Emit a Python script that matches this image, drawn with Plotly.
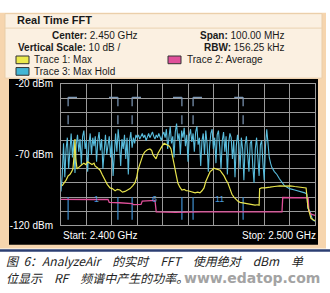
import plotly.graph_objects as go

W, H = 330, 293
def px(x): return x / W
def py(y): return 1 - y / H

# ---------------- data ----------------
start_ghz = 2.400
stop_ghz = 2.500
step_ghz = 0.0005

# Trace 3: Max Hold (cyan), sampled every 0.5 MHz from 2.400 GHz
max_hold_dbm = [
    -96, -84, -62, -86, -66, -58, -80, -64, -55, -72, -60, -83, -63, -56, -68, -59,
    -77, -57, -53, -66, -60, -82, -62, -55, -70, -58, -64, -57, -75, -60, -54, -67,
    -59, -80, -63, -56, -70, -61, -57, -72, -60, -85, -64, -55, -68, -52, -62, -78,
    -59, -66, -56, -73, -58, -84, -60, -54, -65, -58, -62, -56, -58, -56, -59, -57,
    -55, -58, -56, -60, -57, -55, -58, -56, -54, -57, -59, -56, -58, -55, -57, -60,
    -56, -54, -58, -52, -66, -55, -50, -62, -57, -72, -54, -48, -60, -55, -70, -53,
    -58, -51, -64, -56, -75, -57, -52, -61, -55, -68, -54, -50, -63, -58, -78, -60,
    -55, -70, -53, -62, -82, -64, -55, -52, -66, -58, -76, -56, -53, -65, -80, -60,
    -54, -68, -57, -84, -62, -55, -58, -73, -60, -86, -64, -56, -62, -80, -58, -66,
    -88, -63, -57, -70, -82, -62, -60, -78, -90, -66, -58, -72, -85, -63, -60, -76,
    -88, -64, -52, -62, -72, -76, -79,
]
max_hold_tail_ghz = [2.484, 2.485, 2.486, 2.487, 2.488, 2.489, 2.490, 2.492, 2.494,
                     2.496, 2.4968, 2.4972, 2.498, 2.4985, 2.499, 2.500]
max_hold_tail_dbm = [-82, -84, -87, -90, -92, -93, -94, -95, -96,
                     -97, -98, -108, -110, -114, -116, -117]

# Trace 1: Max (yellow)
max_mhz = [0.4, 1.2, 2.0, 2.8, 3.5, 4.2, 4.7, 5.2, 5.5, 5.8, 6.3, 7.0, 7.5, 8.3, 9.0, 9.8,
           10.5, 11.4, 12.2, 13.0, 13.4, 14.2, 15.0, 15.4, 16.2, 17.3, 18.2, 19.3, 20.2,
           21.3, 22.2, 23.2, 24.2, 25.2, 26.2, 27.2, 28.2, 29.1, 29.8, 30.3, 31.0, 31.5,
           32.3, 33.0, 34.0, 35.0, 35.7, 36.2, 37.0, 37.4, 38.2, 39.0, 39.8, 40.6, 41.3,
           42.0, 42.7, 43.3, 44.0, 44.5, 45.2, 46.0, 46.8, 47.6, 48.5, 49.3, 50.0, 51.0,
           52.0, 52.8, 53.8, 54.7, 55.5, 56.3, 57.0, 57.9, 58.7, 59.4, 60.2, 61.0, 61.8,
           62.6, 63.4, 64.2, 65.0, 65.7, 66.5, 67.3, 68.1, 68.9, 69.7, 70.5, 71.4, 72.4,
           73.4, 74.4, 75.4, 76.4, 77.3, 78.0, 78.2, 79.0, 80.3, 81.3, 82.3, 84.0, 86.2,
           88.0, 90.2, 92.0, 94.1, 95.5, 96.5, 97.2, 98.4, 99.3, 100.0]
max_dbm = [-92, -90, -88, -85, -84, -82, -80, -70, -59, -72, -80, -79, -78, -77, -76, -77,
           -75, -76, -77, -76, -78, -79, -80, -81, -84, -88, -91, -93.5, -94,
           -95.5, -94.5, -95, -96.5, -96, -95, -94, -92, -90, -86, -81, -77, -74,
           -70, -68, -66.5, -66, -67, -70, -72, -73, -69, -66, -64, -62, -62.5,
           -63, -64, -66, -71, -76.5, -83, -90, -93, -95, -94.5, -95.5, -95.5, -96,
           -96.5, -97, -96.5, -97, -95.5, -93.5, -89, -85, -82, -81, -79.5, -80, -80.5,
           -81, -83, -85, -88, -90, -94, -98, -100, -101.6, -103, -103.7, -104, -104.4,
           -104.8, -105, -105.5, -105.7, -105.4, -105.7, -94, -93.5, -93.5, -93, -93, -92.5, -92,
           -92.3, -92, -92.5, -93, -93.2, -93.5, -107, -115, -116, -116.6]

# Trace 2: Average (pink)
avg_mhz = [0, 6, 12, 18.5, 19.0, 23.0, 24.5, 28.0, 28.5, 31.5, 32.0, 34.0, 37.0, 37.5,
           45, 55, 65, 75, 87.0, 87.3, 92.0, 97.3, 97.6, 98.5, 100.0]
avg_dbm = [-101.6, -101.4, -101.7, -101.6, -103.8, -104.0, -104.3, -104.6, -105.3, -105.2,
           -102.8, -102.5, -102.3, -110.5, -110.8, -110.5, -110.6, -110.4, -110.5, -100.3,
           -100.2, -100.5, -110.0, -112.0, -113.0]

# Wi-Fi channel markers
channel_edges_ghz = [2.4028, 2.4224, 2.4280, 2.4476, 2.4520, 2.4717]
channel_sides = ["left", "right", "left", "right", "left", "right"]
channel_centers_ghz = [2.4140, 2.4370, 2.4625]
channel_names = ["1", "6", "11"]
bracket_top_dbm = -29.5
bracket_bottom_dbm = -49
bracket_arm_ghz = 0.0035
low_marker_dbm = [-100, -116]

legend_items = [("Trace 1: Max", "#ecea4c"), ("Trace 3: Max Hold", "#43b6d6"),
                ("Trace 2: Average", "#e0509a")]

# ---------------- figure ----------------
cyan_ghz = [start_ghz + i * step_ghz for i in range(len(max_hold_dbm))] + max_hold_tail_ghz
cyan_dbm = max_hold_dbm + max_hold_tail_dbm

fig = go.Figure()

# channel bracket markers (top, dashed)
for e, side in zip(channel_edges_ghz, channel_sides):
    arm = e + bracket_arm_ghz if side == "left" else e - bracket_arm_ghz
    fig.add_trace(go.Scatter(x=[arm, e], y=[bracket_top_dbm, bracket_top_dbm], mode="lines",
                             line=dict(color="#7f9ab8", width=1.2), hoverinfo="skip"))
    fig.add_trace(go.Scatter(x=[e, e], y=[bracket_top_dbm, bracket_bottom_dbm], mode="lines",
                             line=dict(color="#7f9ab8", width=1.2, dash="dash"), hoverinfo="skip"))
    fig.add_trace(go.Scatter(x=[e, e], y=low_marker_dbm, mode="lines",
                             line=dict(color="#3f8fd0", width=1.2), hoverinfo="skip"))

fig.add_trace(go.Scatter(x=cyan_ghz, y=cyan_dbm, mode="lines",
                         line=dict(color="#58bcdc", width=1.1), hoverinfo="skip"))
fig.add_trace(go.Scatter(x=[start_ghz + m / 1000 for m in avg_mhz], y=avg_dbm, mode="lines",
                         line=dict(color="#e0509a", width=1.3), hoverinfo="skip"))
fig.add_trace(go.Scatter(x=[start_ghz + m / 1000 for m in max_mhz], y=max_dbm, mode="lines",
                         line=dict(color="#e8e44c", width=1.2), hoverinfo="skip"))

grid = "#9a9a9a"
FONT = "Liberation Sans"

shapes = [
    dict(type="rect", xref="paper", yref="paper", x0=px(0), x1=px(326), y0=py(253), y1=py(8),
         fillcolor="#f6d5ae", line=dict(width=0), layer="below"),
    dict(type="rect", xref="paper", yref="paper", x0=px(5), x1=px(322), y0=py(76), y1=py(9),
         fillcolor="#fbf0e1", line=dict(color="#e9cda8", width=1), layer="below"),
    dict(type="line", xref="paper", yref="paper", x0=px(5), x1=px(322), y0=py(24), y1=py(24),
         line=dict(color="#ead2b0", width=1), layer="below"),
    dict(type="rect", xref="paper", yref="paper", x0=px(9), x1=px(318), y0=py(249), y1=py(77),
         fillcolor="#000000", line=dict(width=0), layer="below"),
    dict(type="line", xref="paper", yref="paper", x0=0, x1=1, y0=py(255), y1=py(255),
         line=dict(color="#2b3e72", width=2.5), layer="below"),
]
# legend boxes
box_pos = [(16, 53), (16, 65), (168, 53)]
text_pos = [(32, 57), (32, 69), (185, 57)]
annotations = []
for (name, col), (bx, by), (tx, ty) in zip(legend_items, box_pos, text_pos):
    shapes.append(dict(type="rect", xref="paper", yref="paper", x0=px(bx), x1=px(bx + 13),
                       y0=py(by + 8), y1=py(by), fillcolor=col,
                       line=dict(color="#333333", width=1)))
    annotations.append(dict(x=px(tx), y=py(ty), xref="paper", yref="paper", text=name,
                            showarrow=False, xanchor="left", yanchor="middle",
                            font=dict(family=FONT, size=10, color="#1a1a1a")))

def txt(x, y, t, size=10, anchor="left", color="#1a1a1a", family=FONT):
    annotations.append(dict(x=px(x), y=py(y), xref="paper", yref="paper", text=t,
                            showarrow=False, xanchor=anchor, yanchor="middle",
                            font=dict(family=family, size=size, color=color)))

txt(15, 16, "<b>Real Time FFT</b>", size=11)
txt(50, 32, "<b>Center:</b> 2.450 GHz")
txt(16, 44, "<b>Vertical Scale:</b> 10 dB /")
txt(286, 32, "<b>Span:</b> 100.00 MHz", anchor="right")
txt(286, 44, "<b>RBW:</b> 156.25 kHz", anchor="right")

# start / stop labels
annotations.append(dict(x=start_ghz, y=py(240), xref="x", yref="paper",
                        text="Start: 2.400 GHz", showarrow=False, xanchor="left",
                        yanchor="middle", font=dict(family=FONT, size=10, color="white")))
annotations.append(dict(x=stop_ghz, y=py(240), xref="x", yref="paper",
                        text="Stop: 2.500 GHz", showarrow=False, xanchor="right",
                        yanchor="middle", xshift=3,
                        font=dict(family=FONT, size=10, color="white")))
# channel numbers
for c, n in zip(channel_centers_ghz, channel_names):
    annotations.append(dict(x=c, y=-101, xref="x", yref="y", text=n, showarrow=False,
                            font=dict(family=FONT, size=9, color="#4a9ad8")))

# caption
CJK = "Noto Sans CJK SC"
txt(4, 265, "<i>图&nbsp;&nbsp;6：AnalyzeAir　的实时　FFT　使用绝对　dBm　单</i>", size=12,
    family=CJK, color="#222222")
txt(4, 283, "<i>位显示　RF　频谱中产生的功率。</i>", size=12, family=CJK, color="#222222")
txt(322, 284, "<b>www.edatop.com</b>", size=14, anchor="right", color="#a3a3a3",
    family="DejaVu Sans")

fig.update_layout(
    width=W, height=H, margin=dict(l=0, r=0, t=0, b=0),
    paper_bgcolor="white", plot_bgcolor="black", showlegend=False,
    shapes=shapes, annotations=annotations,
    xaxis=dict(domain=[px(61), px(315)], range=[start_ghz, stop_ghz], dtick=0.01,
               tick0=start_ghz, showgrid=True, gridcolor=grid, gridwidth=1,
               showticklabels=False, ticks="", zeroline=False, showline=True,
               linecolor=grid, mirror=True, fixedrange=True),
    yaxis=dict(domain=[py(229), py(82)], range=[-120, -20], tickmode="array",
               tickvals=[-20, -70, -120], ticktext=["-20 dBm", "-70 dBm", "-120 dBm"],
               tickfont=dict(family=FONT, size=10, color="white"), ticks="",
               ticklabelstandoff=5, showgrid=True, gridcolor=grid, gridwidth=1,
               minor=dict(tickmode="linear", tick0=-120, dtick=10, showgrid=True,
                          gridcolor=grid, gridwidth=1),
               zeroline=False, showline=True, linecolor=grid, mirror=True, fixedrange=True),
)

fig.write_html("out.html")
